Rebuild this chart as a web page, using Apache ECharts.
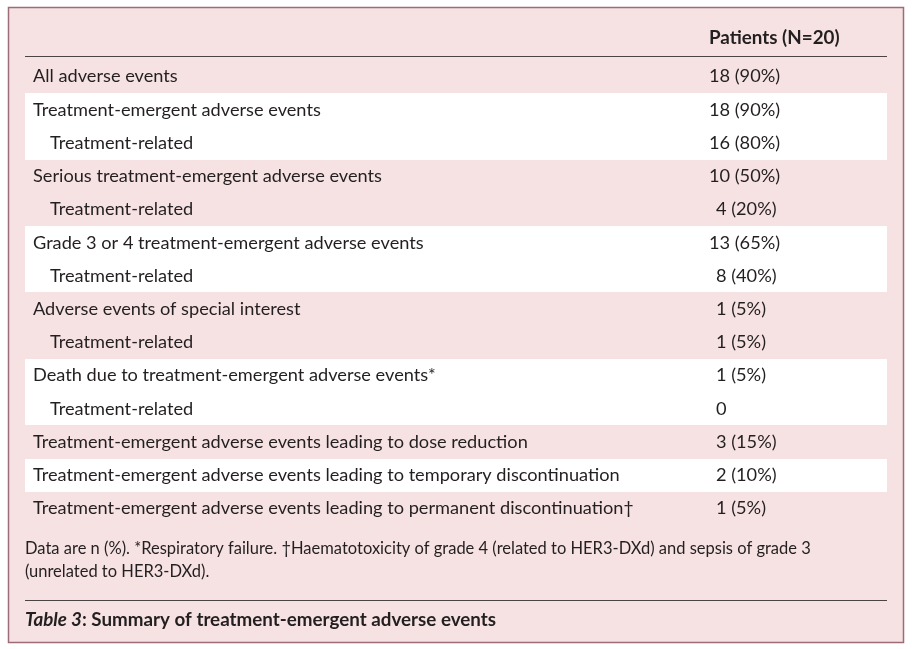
<!DOCTYPE html>
<html>
<head>
<meta charset="utf-8">
<script src="https://cdn.jsdelivr.net/npm/echarts@6/dist/echarts.min.js"></script>
<style>
  html, body { margin: 0; padding: 0; background: #fff; }
  #main { width: 912px; height: 649px; }
</style>
</head>
<body>
<div id="main"></div>
<script>
let chartDom = document.getElementById('main');
let myChart = echarts.init(chartDom, null, { renderer: 'canvas' });

// table content
const rowLabels = [
	'All adverse events',
	'Treatment-emergent adverse events',
	'Treatment-related',
	'Serious treatment-emergent adverse events',
	'Treatment-related',
	'Grade 3 or 4 treatment-emergent adverse events',
	'Treatment-related',
	'Adverse events of special interest',
	'Treatment-related',
	'Death due to treatment-emergent adverse events*',
	'Treatment-related',
	'Treatment-emergent adverse events leading to dose reduction',
	'Treatment-emergent adverse events leading to temporary discontinuation',
	'Treatment-emergent adverse events leading to permanent discontinuation\u2020'
];
const rowLevels = [0, 0, 1, 0, 1, 0, 1, 0, 1, 0, 1, 0, 0, 0];
const patientN = [18, 18, 16, 10, 4, 13, 8, 1, 1, 1, 0, 3, 2, 1];
const patientPct = [90, 90, 80, 50, 20, 65, 40, 5, 5, 5, null, 15, 10, 5];

const columnHeader = 'Patients (N=20)';
const footnoteLines = [
	'Data are n (%). *Respiratory failure. \u2020Haematotoxicity of grade 4 (related to HER3-DXd) and sepsis of grade 3',
	'(unrelated to HER3-DXd).'
];
const captionLabel = 'Table 3';
const captionText = ': Summary of treatment-emergent adverse events';

const FONT = 'Lato, "Noto Sans", sans-serif';
const INK = '#231f20';
const PAGE = '#f6e2e2';

// row groups: a new group starts at every top-level row
let groupIndex = [];
let g = -1;
for (let lvl of rowLevels) {
	if (lvl === 0) g++;
	groupIndex.push(g);
}

function renderRow(params, api) {
	let i = params.dataIndex;
	let cs = params.coordSys;
	let center = api.coord([0, i]);
	let h = api.size([0, 1])[1];
	let y = center[1];
	let children = [];

	if (groupIndex[i] % 2 === 1) {
		let top = Math.round(y - h / 2);
		let bottom = Math.round(y + h / 2);
		children.push({
			type: 'rect',
			shape: { x: cs.x, y: top, width: cs.width, height: bottom - top },
			style: { fill: '#ffffff' }
		});
	}

	children.push({
		type: 'text',
		x: cs.x + 8 + rowLevels[i] * 17,
		y: y,
		style: {
			text: rowLabels[i],
			font: '18.2px ' + FONT,
			fill: INK,
			verticalAlign: 'middle',
			align: 'left'
		}
	});

	let value = String(patientN[i]);
	if (patientPct[i] !== null) value += ' (' + patientPct[i] + '%)';
	children.push({
		type: 'text',
		x: patientN[i] < 10 ? 716 : 709,
		y: y,
		style: {
			text: value,
			font: '18.2px ' + FONT,
			fill: INK,
			verticalAlign: 'middle',
			align: 'left'
		}
	});

	return { type: 'group', children: children };
}

let option = {
	animation: false,
	backgroundColor: '#ffffff',
	grid: { left: 25, right: 25, top: 60, height: 465 },
	xAxis: { type: 'value', min: 0, max: 1, show: false },
	yAxis: {
		type: 'category',
		data: rowLabels.map((_, i) => i),
		inverse: true,
		show: false
	},
	graphic: [
		{
			type: 'rect',
			z: -10,
			shape: { x: 8.5, y: 7.5, width: 895, height: 635 },
			style: { fill: PAGE, stroke: '#9c6c7a', lineWidth: 1.5 }
		},
		{
			type: 'text',
			x: 709,
			y: 38,
			style: {
				text: columnHeader,
				font: 'bold 18.8px ' + FONT,
				fill: INK,
				verticalAlign: 'middle'
			}
		},
		{
			type: 'line',
			shape: { x1: 25, y1: 56.5, x2: 887, y2: 56.5 },
			style: { stroke: '#4a4445', lineWidth: 1 }
		},
		{
			type: 'text',
			x: 25,
			y: 549,
			style: {
				text: footnoteLines[0],
				font: '16.5px ' + FONT,
				fill: INK,
				verticalAlign: 'middle'
			}
		},
		{
			type: 'text',
			x: 25,
			y: 572,
			style: {
				text: footnoteLines[1],
				font: '16.5px ' + FONT,
				fill: INK,
				verticalAlign: 'middle'
			}
		},
		{
			type: 'line',
			shape: { x1: 25, y1: 600.5, x2: 887, y2: 600.5 },
			style: { stroke: '#4a4445', lineWidth: 1 }
		},
		{
			type: 'text',
			x: 25,
			y: 620,
			style: {
				text: '{it|' + captionLabel + '}{b|' + captionText + '}',
				verticalAlign: 'middle',
				rich: {
					it: { font: 'italic bold 18.8px ' + FONT, fill: INK },
					b: { font: 'bold 18.8px ' + FONT, fill: INK }
				}
			}
		}
	],
	series: [{
		type: 'custom',
		renderItem: renderRow,
		encode: { x: 0, y: 1 },
		data: rowLabels.map((_, i) => [0, i]),
		silent: true
	}]
};

myChart.setOption(option);
</script>
</body>
</html>
